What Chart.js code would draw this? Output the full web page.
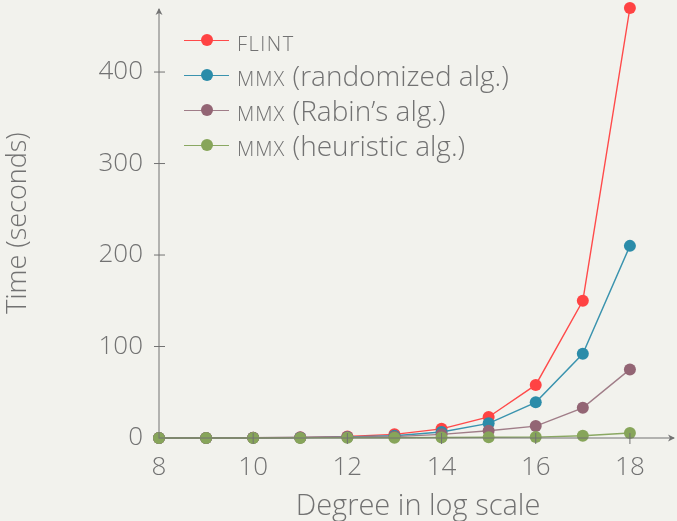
<!DOCTYPE html>
<html><head><meta charset="utf-8">
<script src="https://cdn.jsdelivr.net/npm/chart.js@4/dist/chart.umd.min.js"></script>
<style>
html,body{margin:0;padding:0;background:#f2f2ed;}
#wrap{position:relative;width:677px;height:521px;}
#legend{position:absolute;left:184px;top:23px;font-family:"Open Sans",sans-serif;font-weight:300;color:#727272;font-size:28px;}
.row{position:relative;height:35px;line-height:35px;padding-left:53px;white-space:nowrap;}
.ln{position:absolute;left:0;top:17px;width:45px;height:1.4px;}
.dt{position:absolute;left:17px;top:11px;width:12px;height:12px;border-radius:50%;}
.sc{font-variant:small-caps;letter-spacing:1px;}
</style></head>
<body><div id="wrap"><canvas id="c" width="677" height="521"></canvas><div id="legend"></div></div>
<script>
const degrees = [8,9,10,11,12,13,14,15,16,17,18];
const flint = [0.05,0.1,0.3,0.7,1.6,4,10,23,58,150,470];
const mmxRandomized = [0.05,0.1,0.2,0.5,1.2,2.5,6.5,16,39,92,210];
const mmxRabin = [0.03,0.08,0.2,0.4,1,1.5,4,8,13,33,75];
const mmxHeuristic = [0.01,0.02,0.05,0.1,0.2,0.3,0.5,0.8,1,2.5,5.5];
const xTicks = [8,10,12,14,16,18];
const yTicks = [0,100,200,300,400];
const seriesNames = ['flint','mmx (randomized alg.)','mmx (Rabin’s alg.)','mmx (heuristic alg.)'];
const legendHtml = ['<span class="sc" style="letter-spacing:1.5px">flint</span>','<span class="sc">mmx</span> (randomized alg.)','<span class="sc">mmx</span> (Rabin’s alg.)','<span class="sc">mmx</span> (heuristic alg.)'];
const colors = ['#ff4343','#2b8ca9','#936574','#87a55a'];
const lineColors = ['#ff4a4a','#3a93ae','#a07d88','#8aa862'];
const series = [flint, mmxRandomized, mmxRabin, mmxHeuristic];

const grey = '#727272';
const tickFont = {family:'"Open Sans", sans-serif', weight:300, size:26};
const xTitleFont = {family:'"Open Sans", sans-serif', weight:300, size:29};
const yTitleFont = {family:'"Open Sans", sans-serif', weight:300, size:27};

const leg = document.getElementById('legend');
seriesNames.forEach((n,i)=>{
  const r=document.createElement('div');r.className='row';
  r.innerHTML='<div class="ln" style="background:'+lineColors[i]+'"></div><div class="dt" style="background:'+colors[i]+'"></div>'+legendHtml[i];
  leg.appendChild(r);
});

const axisDeco = {
  id:'axisDeco',
  afterDraw(chart){
    const ctx=chart.ctx, x=chart.scales.x, y=chart.scales.y, a=chart.chartArea;
    const x0=x.getPixelForValue(8), y0=y.getPixelForValue(0);
    ctx.save();
    ctx.strokeStyle=grey;ctx.fillStyle=grey;ctx.lineWidth=1;
    ctx.beginPath();ctx.moveTo(x0,a.bottom+0.5);ctx.lineTo(x0,a.top+1);ctx.stroke();
    ctx.beginPath();ctx.moveTo(a.left,y0);ctx.lineTo(a.right-3,y0);ctx.stroke();
    yTicks.forEach(v=>{if(v===0)return;const p=y.getPixelForValue(v);ctx.beginPath();ctx.moveTo(x0-5,p);ctx.lineTo(x0+6,p);ctx.stroke();});
    xTicks.forEach(v=>{if(v===8)return;const p=x.getPixelForValue(v);ctx.beginPath();ctx.moveTo(p,y0-5);ctx.lineTo(p,y0+6);ctx.stroke();});
    ctx.beginPath();ctx.moveTo(x0,a.top);ctx.lineTo(x0-3.5,a.top+7);ctx.lineTo(x0,a.top+5);ctx.lineTo(x0+3.5,a.top+7);ctx.closePath();ctx.fill();
    const xr=a.right-2;
    ctx.beginPath();ctx.moveTo(xr,y0);ctx.lineTo(xr-7,y0-3.5);ctx.lineTo(xr-5,y0);ctx.lineTo(xr-7,y0+3.5);ctx.closePath();ctx.fill();
    ctx.restore();
  }
};

new Chart(document.getElementById('c'),{
  type:'line',
  data:{
    datasets: series.map((s,i)=>({
      label: seriesNames[i],
      data: degrees.map((d,j)=>({x:d,y:s[j]})),
      borderColor: lineColors[i],
      backgroundColor: colors[i],
      pointBackgroundColor: colors[i],
      pointBorderWidth:0,
      pointRadius:6,
      borderWidth:1.4,
      order: 4-i,
      clip:false
    }))
  },
  plugins:[axisDeco],
  options:{
    responsive:false, animation:false,
    layout:{autoPadding:false,padding:{left:0,right:0,top:8,bottom:0}},
    plugins:{legend:{display:false},tooltip:{enabled:false}},
    scales:{
      x:{type:'linear',min:8,max:19,
        afterBuildTicks(s){s.ticks=xTicks.map(v=>({value:v}));},
        afterFit(s){s.height=83;s.paddingLeft=0;s.paddingRight=0;},
        grid:{display:false,drawTicks:false},border:{display:false},
        ticks:{color:grey,font:tickFont,padding:14,maxRotation:0},
        title:{display:true,text:'Degree in log scale',color:grey,font:xTitleFont,padding:{top:0,bottom:-3}}
      },
      y:{min:0,max:470,
        afterBuildTicks(s){s.ticks=yTicks.map(v=>({value:v}));},
        afterFit(s){s.width=159;s.paddingTop=0;s.paddingBottom=0;},
        grid:{display:false,drawTicks:false},border:{display:false},
        ticks:{color:grey,font:tickFont,padding:16},
        title:{display:true,text:'Time (seconds)',color:grey,font:yTitleFont,padding:{top:2,bottom:0}}
      }
    }
  }
});
</script></body></html>
